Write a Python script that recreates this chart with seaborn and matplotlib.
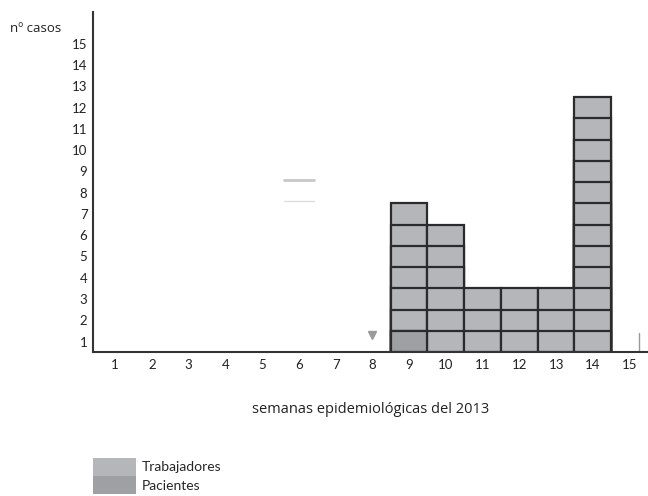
import numpy as np
import seaborn as sns
import matplotlib.pyplot as plt
from matplotlib.patches import Patch

# data
weeks = [str(w) for w in range(1, 16)]
workers = [0, 0, 0, 0, 0, 0, 0, 0, 6, 6, 3, 3, 3, 12, 0]
patients = [0, 0, 0, 0, 0, 0, 0, 0, 1, 0, 0, 0, 0, 0, 0]
y_ticks = list(range(1, 16))

c_work = "#b5b6ba"
c_pat = "#9fa0a3"
c_edge = "#2b2b2b"

sns.set_style("white")
plt.rcParams['font.family'] = ['Lato', 'DejaVu Sans']

fig = plt.figure(figsize=(6.48, 4.96), dpi=100)
ax = fig.add_axes([0.1435, 0.29, 0.8565, 0.686])

total = np.array(workers) + np.array(patients)

# stack of unit squares: draw the tallest level first, lower levels over it
for k in range(int(total.max()), 0, -1):
    xs = [w for w, t in zip(weeks, total) if t >= k]
    ys = [k] * len(xs)
    sns.barplot(x=xs, y=ys, order=weeks, color=c_work, width=1.0,
                edgecolor=c_edge, linewidth=1.6, saturation=1, ax=ax)

# patients at the bottom of each column
xs = [w for w, p in zip(weeks, patients) if p > 0]
ys = [p for p in patients if p > 0]
sns.barplot(x=xs, y=ys, order=weeks, color=c_pat, width=1.0,
            edgecolor=c_edge, linewidth=1.6, saturation=1, ax=ax)

# small marks seen in the original
ax.plot([7], [0.8], marker="v", color="#9a9a9a", markersize=6, ls="none")
ax.plot([4.6, 5.4], [8.1, 8.1], color="#c8c8c8", lw=2)
ax.plot([4.6, 5.4], [7.1, 7.1], color="#dddddd", lw=1)
ax.plot([14.25, 14.25], [0, 0.9], color="#999999", lw=1)

ax.set_xlim(-0.6, 14.5)
ax.set_ylim(0, 16)
ax.set_yticks([v - 0.5 for v in y_ticks])
ax.set_yticklabels([str(v) for v in y_ticks])
ax.tick_params(axis="both", length=0, labelsize=9.5, colors="#222222")
ax.tick_params(axis="y", pad=4)
ax.tick_params(axis="x", pad=5)
ax.set_xlabel("semanas epidemiológicas del 2013", fontsize=10.5,
              color="#222222", labelpad=22, family=["Open Sans", "DejaVu Sans"])
ax.set_ylabel("")

for s in ["top", "right"]:
    ax.spines[s].set_visible(False)
for s in ["left", "bottom"]:
    ax.spines[s].set_color("#333333")
    ax.spines[s].set_linewidth(1.5)

fig.text(0.016, 0.943, "nº casos", fontsize=9.5, color="#222222", va="center",
         family=["Open Sans", "DejaVu Sans"])

handles = [Patch(facecolor=c_work, edgecolor="none", label="Trabajadores"),
           Patch(facecolor=c_pat, edgecolor="none", label="Pacientes")]
fig.legend(handles=handles, loc="upper left", bbox_to_anchor=(0.143, 0.077),
           frameon=False, fontsize=10, handlelength=3.1, handleheight=1.65,
           labelspacing=0.0, handletextpad=0.4, borderaxespad=0,
           borderpad=0)

fig.savefig("out.png", dpi=100)
